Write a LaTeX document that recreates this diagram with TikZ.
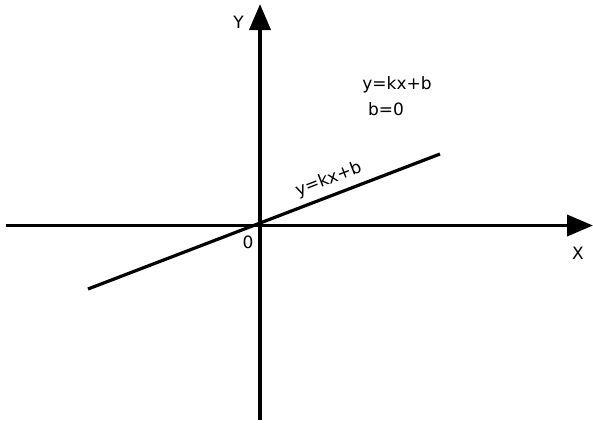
\documentclass[tikz,border=0pt]{standalone}
\usepackage{fontspec}
\setmainfont{DejaVu Sans}
\usetikzlibrary{arrows.meta}

\begin{document}
\begin{tikzpicture}[
    x=1pt, y=-1pt,
    axis/.style={line width=3.8pt, -{Triangle[length=26pt,width=21pt]}},
    graph/.style={line width=3.2pt},
    lbl/.style={font=\fontsize{17}{20}\selectfont, inner sep=0pt}
]
\useasboundingbox (0,0) rectangle (593,426);

\coordinate (xl) at (6,225.5);
\coordinate (xr) at (593,225.5);
\coordinate (yb) at (260,420);
\coordinate (yt) at (260,4);
\coordinate (lstart) at (88,289);
\coordinate (lend) at (440,154);

\draw[axis] (xl) -- (xr);
\draw[axis] (yb) -- (yt);
\draw[graph] (lstart) -- (lend) node[lbl, pos=0.7, sloped, above=6pt] (lineeq) {y=kx+b};

\node[lbl] (ylabel) at (238.5,22) {Y};
\node[lbl] (xlabel) at (578,253.5) {X};
\node[lbl] (origin) at (248,242.5) {0};
\node[lbl, anchor=base] (eq) at (397,89) {y=kx+b};
\node[lbl, anchor=base] (bzero) at (386,115) {b=0};

\end{tikzpicture}
\end{document}
